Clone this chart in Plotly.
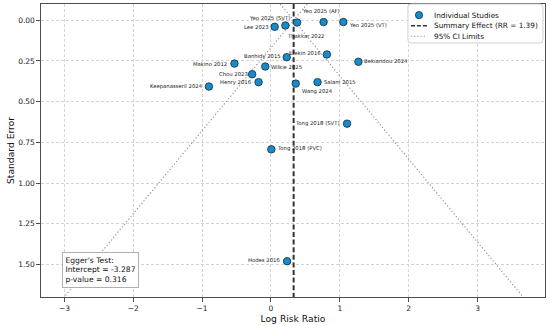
import numpy as np
import plotly.graph_objects as go

# ---------------- data ----------------
studies = ["Lee 2023", "Yeo 2025 (SVT)", "Thakkar 2022", "Yeo 2025 (AF)", "Yeo 2025 (VT)",
           "Banhidy 2015", "Erekin 2016", "Bekiaridou 2024", "Makino 2012", "Wilkie 2025",
           "Chou 2023", "Henry 2016", "Wang 2024", "Salam 2015", "Keepanasseril 2024",
           "Tong 2018 (SVT)", "Tong 2018 (PVC)", "Hodes 2016"]
log_rr = [0.054, 0.209, 0.380, 0.764, 1.051,
          0.229, 0.813, 1.270, -0.530, -0.083,
          -0.273, -0.180, 0.360, 0.676, -0.901,
          1.105, 0.005, 0.234]
std_err = [0.040, 0.032, 0.014, 0.011, 0.011,
           0.227, 0.210, 0.255, 0.266, 0.284,
           0.331, 0.380, 0.389, 0.380, 0.407,
           0.635, 0.793, 1.480]
summary_rr = 1.39
egger_intercept = -3.287
egger_p = 0.316
x_ticks = [-3, -2, -1, 0, 1, 2, 3]
y_ticks = [0.00, 0.25, 0.50, 0.75, 1.00, 1.25, 1.50]

# ---------------- styling / positions ----------------
X_RANGE = [-3.34, 3.98]
Y_RANGE = [1.70, -0.10]
FONT = "DejaVu Sans"
MARKER_COLOR = "#168ccb"
# label placement: (anchor, xshift px, yshift px)
label_pos = {
    "Lee 2023": ("right", -4, 0),
    "Yeo 2025 (SVT)": ("right", 7, 7),
    "Thakkar 2022": ("left", -12, -13),
    "Yeo 2025 (AF)": ("left", -24, 11),
    "Yeo 2025 (VT)": ("left", 4, -3),
    "Banhidy 2015": ("right", -4, 1),
    "Erekin 2016": ("right", -4, 1),
    "Bekiaridou 2024": ("left", 4, 1),
    "Makino 2012": ("right", -5, 0),
    "Wilkie 2025": ("left", 4, 0),
    "Chou 2023": ("right", -2, 0),
    "Henry 2016": ("right", -5, 0),
    "Wang 2024": ("left", 4, -8),
    "Salam 2015": ("left", 4, 0),
    "Keepanasseril 2024": ("right", -4, 0),
    "Tong 2018 (SVT)": ("right", -5, 0),
    "Tong 2018 (PVC)": ("left", 4, 1),
    "Hodes 2016": ("right", -5, 1),
}

log_summary = float(np.log(summary_rr))
se_line = np.array([Y_RANGE[1], Y_RANGE[0]])

fig = go.Figure()

# 95% CI limits
fig.add_trace(go.Scatter(x=log_summary - 1.96 * se_line, y=se_line, mode="lines",
                         line=dict(color="#8c8c8c", width=1.1, dash="1.2px,2.2px"),
                         showlegend=False, hoverinfo="skip"))
fig.add_trace(go.Scatter(x=log_summary + 1.96 * se_line, y=se_line, mode="lines",
                         line=dict(color="#8c8c8c", width=1.1, dash="1.2px,2.2px"),
                         showlegend=False, hoverinfo="skip"))
# summary effect
fig.add_trace(go.Scatter(x=[log_summary, log_summary], y=se_line, mode="lines",
                         line=dict(color="#333333", width=2, dash="5px,2.6px"),
                         showlegend=False, hoverinfo="skip"))
# studies
fig.add_trace(go.Scatter(x=log_rr, y=std_err, mode="markers", text=studies,
                         marker=dict(size=7.5, color=MARKER_COLOR,
                                     line=dict(color="#1b2a3a", width=0.8)),
                         showlegend=False))

for name, xv, yv in zip(studies, log_rr, std_err):
    anchor, dx, dy = label_pos[name]
    fig.add_annotation(x=xv, y=yv, xref="x", yref="y", text=name, showarrow=False,
                       xanchor=anchor, yanchor="middle", xshift=dx, yshift=dy,
                       font=dict(family=FONT, size=5.3, color="#222222"))

# Egger's test box
fig.add_annotation(xref="paper", yref="paper", x=0.042, y=0.154, xanchor="left", yanchor="top",
                   text=f"Egger's Test:<br>Intercept = {egger_intercept:.3f}<br>p-value = {egger_p:.3f}",
                   showarrow=False, align="left",
                   font=dict(family=FONT, size=7.6, color="#111111"),
                   bgcolor="white", bordercolor="#b0b0b0", borderwidth=1, borderpad=2.5)

# ---------------- legend (drawn in paper space) ----------------
W, H = 504.0, 293.0  # plot area size in px
lx0, lx1 = 0.728, 0.996
ly0, ly1 = 0.867, 1.0
rx, ry = 3 / W, 3 / H
path = (f"M {lx0+rx},{ly0} L {lx1-rx},{ly0} Q {lx1},{ly0} {lx1},{ly0+ry} "
        f"L {lx1},{ly1-ry} Q {lx1},{ly1} {lx1-rx},{ly1} L {lx0+rx},{ly1} "
        f"Q {lx0},{ly1} {lx0},{ly1-ry} L {lx0},{ly0+ry} Q {lx0},{ly0} {lx0+rx},{ly0} Z")
fig.add_shape(type="path", path=path, xref="paper", yref="paper",
              fillcolor="rgba(255,255,255,0.85)", line=dict(color="#d0d0d0", width=1), layer="above")
rows = [0.962, 0.926, 0.890]
sx0, sx1, scx = 0.734, 0.766, 0.750
mr_x, mr_y = 3.6 / W, 3.6 / H
fig.add_shape(type="circle", xref="paper", yref="paper",
              x0=scx - mr_x, x1=scx + mr_x, y0=rows[0] - mr_y, y1=rows[0] + mr_y,
              fillcolor=MARKER_COLOR, line=dict(color="#1b2a3a", width=0.8), layer="above")
fig.add_shape(type="line", xref="paper", yref="paper", x0=sx0, x1=sx1, y0=rows[1], y1=rows[1],
              line=dict(color="#333333", width=1.6, dash="4px,2px"), layer="above")
fig.add_shape(type="line", xref="paper", yref="paper", x0=sx0, x1=sx1, y0=rows[2], y1=rows[2],
              line=dict(color="#8c8c8c", width=1.1, dash="1.2px,2px"), layer="above")
legend_text = ["Individual Studies", f"Summary Effect (RR = {summary_rr:.2f})", "95% CI Limits"]
for t, ry_ in zip(legend_text, rows):
    fig.add_annotation(xref="paper", yref="paper", x=0.776, y=ry_, xanchor="left", yanchor="middle",
                       text=t, showarrow=False, font=dict(family=FONT, size=7.3, color="#111111"))

axis_common = dict(showline=True, mirror=True, linecolor="#4d4d4d", linewidth=1.2,
                   ticks="outside", ticklen=3.5, tickwidth=1, tickcolor="#4d4d4d",
                   showgrid=True, gridcolor="#d4d4d4", gridwidth=0.8, griddash="3px,2px",
                   zeroline=False, automargin=False,
                   tickfont=dict(family=FONT, size=7.5, color="#222222"))

fig.update_xaxes(range=X_RANGE, tickmode="array", tickvals=x_ticks,
                 ticktext=[("\u2212" + str(abs(v))) if v < 0 else str(v) for v in x_ticks],
                 title=dict(text="Log Risk Ratio", font=dict(family=FONT, size=9.2, color="#111111"),
                            standoff=3),
                 **axis_common)
fig.update_yaxes(range=Y_RANGE, tickmode="array", tickvals=y_ticks,
                 ticktext=[f"{v:.2f}" for v in y_ticks],
                 title=dict(text="Standard Error", font=dict(family=FONT, size=9.2, color="#111111"),
                            standoff=1),
                 **axis_common)

fig.update_layout(width=550, height=326, margin=dict(l=41, r=5, t=4, b=29),
                  plot_bgcolor="white", paper_bgcolor="white",
                  font=dict(family=FONT), showlegend=False)

fig.write_html("out.html", config={"displayModeBar": False},
               post_script="document.body.style.margin='0';document.body.style.overflow='hidden';")
